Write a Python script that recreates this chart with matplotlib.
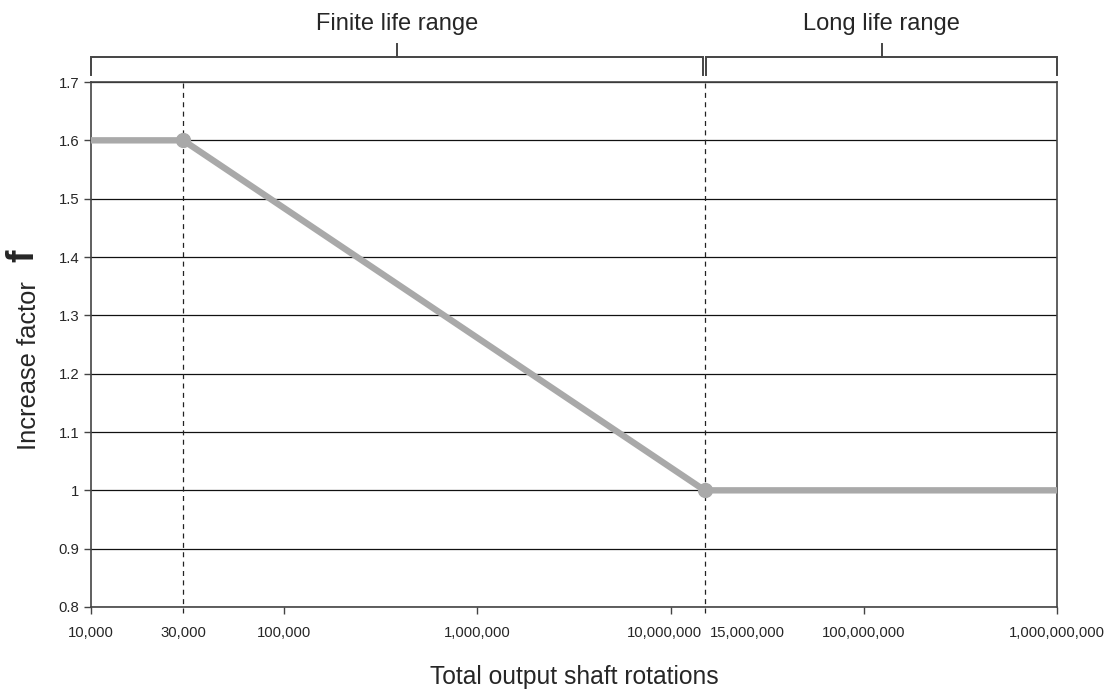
import matplotlib

matplotlib.use("Agg")

import matplotlib.pyplot as plt
import matplotlib.transforms as mtransforms
from matplotlib.ticker import FixedLocator, FuncFormatter, NullLocator

# curve of the increase factor f vs total output shaft rotations
rotations = [1e4, 3e4, 1.5e7, 1e9]
factor = [1.6, 1.6, 1.0, 1.0]
knee_rotations = [3e4, 1.5e7]
knee_factor = [1.6, 1.0]

x_ticks = [1e4, 3e4, 1e5, 1e6, 1e7, 1.5e7, 1e8, 1e9]
x_labels = ["10,000", "30,000", "100,000", "1,000,000", "10,000,000",
            "15,000,000", "100,000,000", "1,000,000,000"]
y_ticks = [0.8, 0.9, 1.0, 1.1, 1.2, 1.3, 1.4, 1.5, 1.6, 1.7]

ranges = [("Finite life range", 1e4, 1.5e7), ("Long life range", 1.5e7, 1e9)]

plt.rcParams["font.family"] = ["Liberation Sans", "DejaVu Sans"]

TEXT = "#262626"
LINE = "#444444"
CURVE = "#a9a9a9"

fig = plt.figure(figsize=(11.07, 6.91), dpi=100)
ax = fig.add_axes([91 / 1107, 1 - 607 / 691, 966 / 1107, 525 / 691])

ax.set_xscale("log")
ax.set_xlim(1e4, 1e9)
ax.set_ylim(0.8, 1.7)

# horizontal grid
for y in y_ticks:
    ax.axhline(y, color="#111111", linewidth=0.9, zorder=1)

# dashed guides at the knees
for xk in knee_rotations:
    ax.axvline(xk, ymin=-0.012, ymax=1.0, color="#222222", linewidth=0.9,
               linestyle=(0, (4, 3.5)), clip_on=False, zorder=2)

ax.plot(rotations, factor, color=CURVE, linewidth=4.6, solid_capstyle="butt", zorder=3)
ax.plot(knee_rotations, knee_factor, "o", color=CURVE, markersize=10, zorder=4)

for side in ["left", "right", "bottom", "top"]:
    ax.spines[side].set_color(LINE)
    ax.spines[side].set_linewidth(1.2)

ax.xaxis.set_major_locator(FixedLocator(x_ticks))
ax.xaxis.set_minor_locator(NullLocator())
ax.set_xticklabels(x_labels)
ax.yaxis.set_major_locator(FixedLocator(y_ticks))
ax.yaxis.set_major_formatter(FuncFormatter(lambda v, _: f"{v:g}"))
ax.tick_params(axis="both", direction="out", length=5, width=1.0, colors=LINE,
               labelcolor=TEXT, labelsize=10.7)
ax.tick_params(axis="x", pad=9)

# knee ticks carry no tick mark, labels nudged like the original
for tick, val in zip(ax.xaxis.get_major_ticks(), x_ticks):
    if val in knee_rotations:
        tick.tick1line.set_visible(False)
shifts = {1e7: -6, 1.5e7: 43}
for lab, val in zip(ax.get_xticklabels(), x_ticks):
    if val in shifts:
        off = mtransforms.ScaledTranslation(shifts[val] / 100, 0, fig.dpi_scale_trans)
        lab.set_transform(lab.get_transform() + off)

ax.text(0.5, -0.133, "Total output shaft rotations", transform=ax.transAxes,
        ha="center", va="center", fontsize=17.7, color=TEXT)

# y label with bold f
ax.text(-0.0642, 0.459, "Increase factor", rotation=90, transform=ax.transAxes,
        ha="center", va="center", fontsize=18.4, color=TEXT)
ax.text(-0.0695, 0.670, "f", rotation=90, transform=ax.transAxes,
        ha="center", va="center", fontsize=27, fontweight="bold", color=TEXT)

# range brackets above the plot
trans = mtransforms.blended_transform_factory(ax.transData, ax.transAxes)
gap = 10 ** (1.5 / 193.2)
y_bar, y_end, y_mid = 1.0476, 1.0133, 1.072
for i, (name, x0, x1) in enumerate(ranges):
    if i == 0:
        x1 = x1 / gap
    else:
        x0 = x0 * gap
    ax.plot([x0, x0, x1, x1], [y_end, y_bar, y_bar, y_end], color=LINE,
            linewidth=1.4, transform=trans, clip_on=False, solid_joinstyle="miter")
    xm = (x0 * x1) ** 0.5
    ax.plot([xm, xm], [y_bar, y_mid], color=LINE, linewidth=1.4,
            transform=trans, clip_on=False)
    ax.text(xm, 1.110, name, transform=trans, ha="center", va="center",
            fontsize=17, color=TEXT)

fig.savefig("out.png", dpi=100, facecolor="white")
